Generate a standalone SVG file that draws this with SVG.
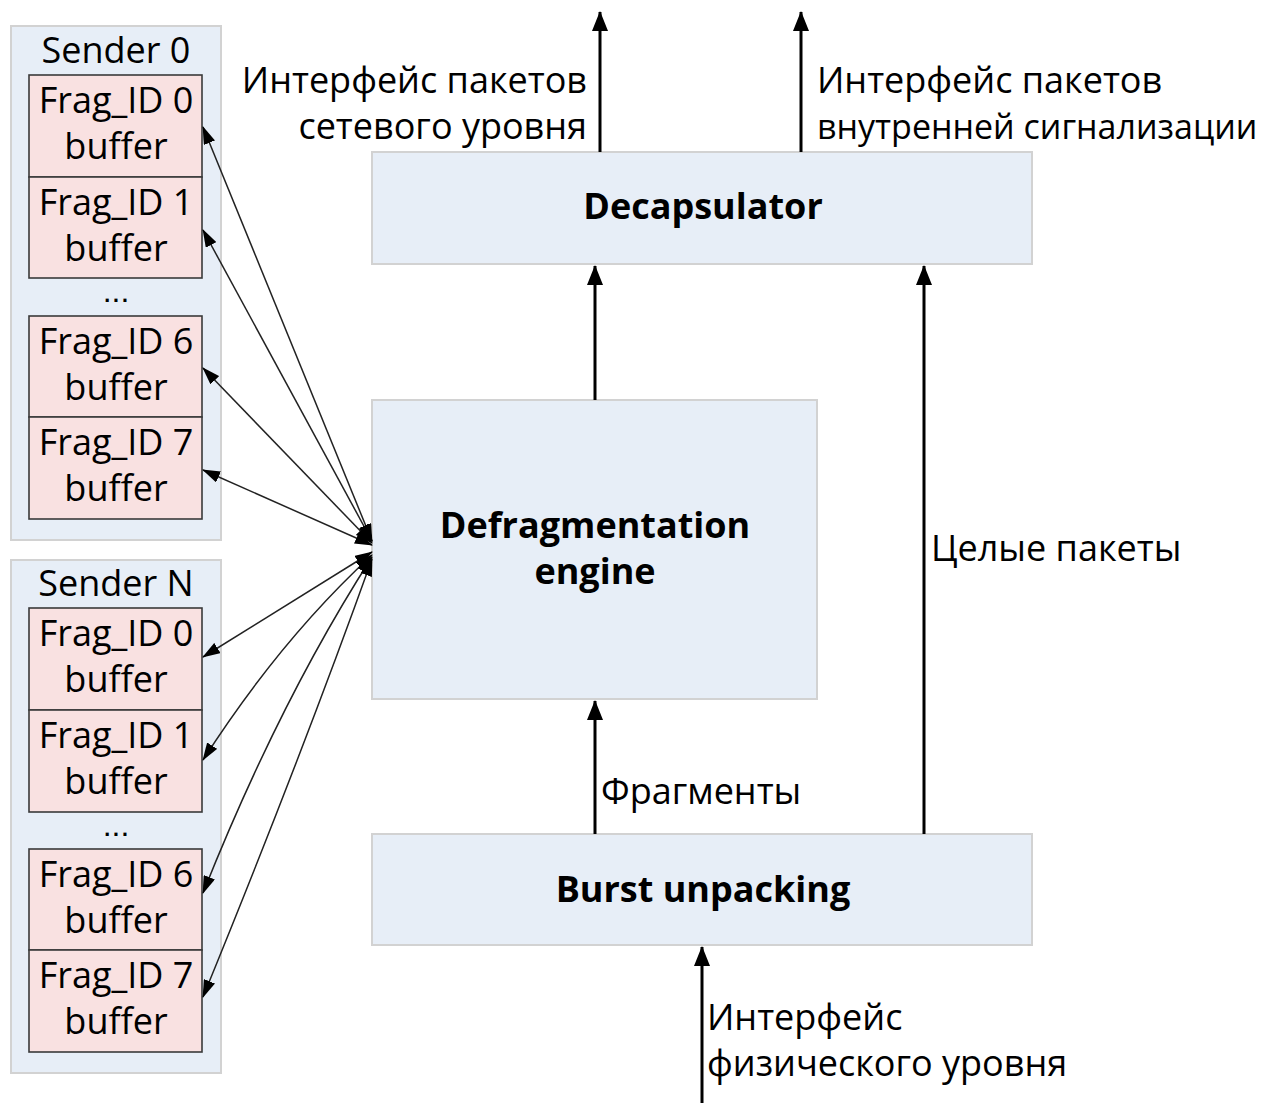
<svg xmlns="http://www.w3.org/2000/svg" width="1276" height="1103" viewBox="0 0 1276 1103">
<defs>
<style>
text{font-family:"Open Sans","Noto Sans","DejaVu Sans",sans-serif;font-size:36px;fill:#000}
.b{font-weight:bold;text-anchor:middle}
.c{text-anchor:middle}
.d{text-anchor:middle;font-family:"Liberation Sans",sans-serif;font-size:32px}
.cont{fill:#e7eef7;stroke:#d2d2d2;stroke-width:2}
.buf{fill:#f9e1e1;stroke:#3a3a3a;stroke-width:1.6}
.blk{fill:#e7eef7;stroke:#d2d2d2;stroke-width:2}
.main{stroke:#000;stroke-width:3;fill:none;marker-end:url(#ah)}
.fan{stroke:#222;stroke-width:1.5;fill:none;marker-start:url(#fh);marker-end:url(#fh)}
</style>
<marker id="ah" markerUnits="userSpaceOnUse" viewBox="0 0 20 16" refX="19" refY="8" markerWidth="20" markerHeight="16" orient="auto">
<path d="M0,0 L20,8 L0,16 Z" fill="#000"/>
</marker>
<marker id="fh" markerUnits="userSpaceOnUse" viewBox="0 0 18 12" refX="17" refY="6" markerWidth="18" markerHeight="12" orient="auto-start-reverse">
<path d="M0,0 L18,6 L0,12 Z" fill="#000"/>
</marker>
</defs>
<rect width="1276" height="1103" fill="#fff"/>

<g id="sender0">
<rect class="cont" x="11" y="26" width="210" height="514"/>
<text class="c" x="116" y="63">Sender 0</text>
</g>
<g id="s0_buf0"><rect class="buf" x="29" y="75" width="173" height="102"/><text class="c" x="116" y="113">Frag_ID 0</text><text class="c" x="116" y="159">buffer</text></g>
<g id="s0_buf1"><rect class="buf" x="29" y="177" width="173" height="101"/><text class="c" x="116" y="215">Frag_ID 1</text><text class="c" x="116" y="261">buffer</text></g>
<text class="d" x="116" y="302">...</text>
<g id="s0_buf6"><rect class="buf" x="29" y="316" width="173" height="101"/><text class="c" x="116" y="354">Frag_ID 6</text><text class="c" x="116" y="400">buffer</text></g>
<g id="s0_buf7"><rect class="buf" x="29" y="417" width="173" height="102"/><text class="c" x="116" y="455">Frag_ID 7</text><text class="c" x="116" y="501">buffer</text></g>

<g id="senderN">
<rect class="cont" x="11" y="560" width="210" height="513"/>
<text class="c" x="116" y="596">Sender N</text>
</g>
<g id="sN_buf0"><rect class="buf" x="29" y="608" width="173" height="102"/><text class="c" x="116" y="646">Frag_ID 0</text><text class="c" x="116" y="692">buffer</text></g>
<g id="sN_buf1"><rect class="buf" x="29" y="710" width="173" height="102"/><text class="c" x="116" y="748">Frag_ID 1</text><text class="c" x="116" y="794">buffer</text></g>
<text class="d" x="116" y="836">...</text>
<g id="sN_buf6"><rect class="buf" x="29" y="849" width="173" height="101"/><text class="c" x="116" y="887">Frag_ID 6</text><text class="c" x="116" y="933">buffer</text></g>
<g id="sN_buf7"><rect class="buf" x="29" y="950" width="173" height="102"/><text class="c" x="116" y="988">Frag_ID 7</text><text class="c" x="116" y="1034">buffer</text></g>

<g id="decapsulator"><rect class="blk" x="372" y="152" width="660" height="112"/><text class="b" x="703" y="219">Decapsulator</text></g>
<g id="defrag"><rect class="blk" x="372" y="400" width="445" height="299"/><text class="b" x="595" y="538">Defragmentation</text><text class="b" x="595" y="584">engine</text></g>
<g id="burst"><rect class="blk" x="372" y="834" width="660" height="111"/><text class="b" x="703" y="902">Burst unpacking</text></g>

<g id="connectors">
<line class="main" x1="600" y1="152" x2="600" y2="12"/>
<line class="main" x1="801" y1="152" x2="801" y2="12"/>
<line class="main" x1="595" y1="400" x2="595" y2="266"/>
<line class="main" x1="924" y1="834" x2="924" y2="266"/>
<line class="main" x1="595" y1="834" x2="595" y2="701"/>
<line class="main" x1="702" y1="1103" x2="702" y2="947"/>

<line class="fan" x1="372" y1="541" x2="203" y2="127"/>
<line class="fan" x1="372" y1="541" x2="203" y2="230"/>
<line class="fan" x1="372" y1="543" x2="203" y2="368"/>
<line class="fan" x1="372" y1="545" x2="203" y2="470"/>
<line class="fan" x1="372" y1="552" x2="203" y2="657"/>
<path class="fan" d="M372,555 Q280,640 203,760"/>
<path class="fan" d="M372,557 Q280,700 203,893"/>
<path class="fan" d="M372,559 Q300,760 203,997"/>
</g>

<g id="labels">
<text x="587" y="93" text-anchor="end">Интерфейс пакетов</text>
<text x="587" y="139" text-anchor="end">сетевого уровня</text>
<text x="817" y="93">Интерфейс пакетов</text>
<text x="817" y="139" style="font-size:34px">внутренней сигнализации</text>
<text x="931" y="561">Целые пакеты</text>
<text x="601" y="804">Фрагменты</text>
<text x="707" y="1030">Интерфейс</text>
<text x="707" y="1076">физического уровня</text>
</g>
</svg>
